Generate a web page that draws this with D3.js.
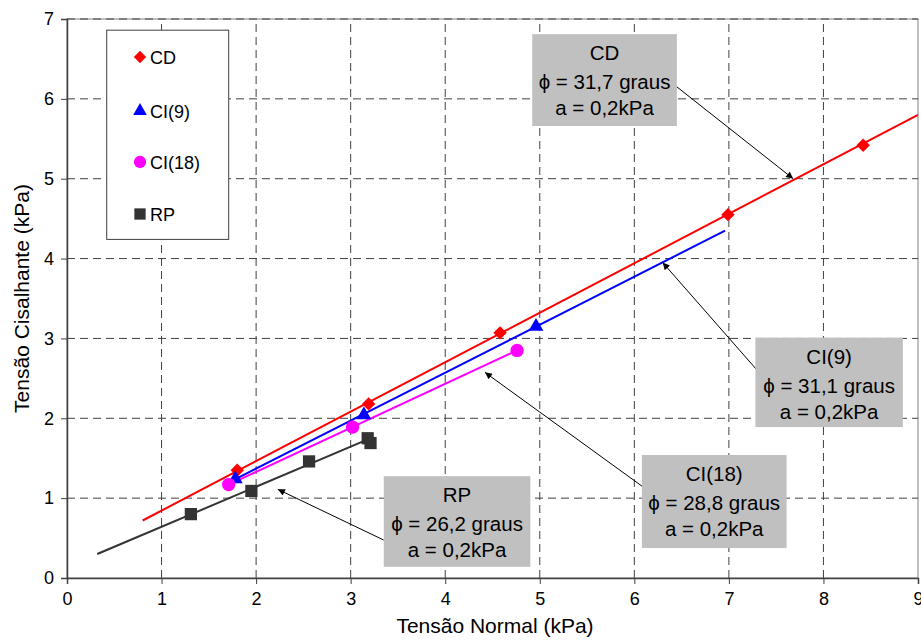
<!DOCTYPE html>
<html>
<head>
<meta charset="utf-8">
<script src="https://cdn.jsdelivr.net/npm/d3@7"></script>
<style>
  body { margin: 0; background: #fff; }
  text { font-family: "Liberation Sans", Arial, sans-serif; fill: #000; }
</style>
</head>
<body>
<div id="chart"></div>
<script>
// data
const cdX = [1.80, 3.19, 4.58, 6.99, 8.42];
const cdY = [1.35, 2.18, 3.07, 4.55, 5.42];
const ci9X = [1.78, 3.14, 4.96];
const ci9Y = [1.24, 2.04, 3.15];
const ci18X = [1.71, 3.02, 4.76];
const ci18Y = [1.17, 1.89, 2.85];
const rpX = [1.31, 1.95, 2.56, 3.18, 3.21];
const rpY = [0.80, 1.09, 1.46, 1.75, 1.69];

// fitted lines (end points)
const cdFitX = [0.8, 9.0], cdFitY = [0.72, 5.80];
const ci9FitX = [1.75, 6.96], ci9FitY = [1.22, 4.35];
const ci18FitX = [1.71, 4.76], ci18FitY = [1.17, 2.85];
const rpFitX = [0.32, 3.15], rpFitY = [0.30, 1.72];

const xTicks = [0, 1, 2, 3, 4, 5, 6, 7, 8, 9];
const yTicks = [0, 1, 2, 3, 4, 5, 6, 7];
const legendNames = ["CD", "CI(9)", "CI(18)", "RP"];

// annotation boxes: [x0, x1, yTop, yBottom] in data units, arrow from -> to
const noteNames = ["CD", "CI(9)", "CI(18)", "RP"];
const notePhi = ["31,7", "31,1", "28,8", "26,2"];
const noteBox = [[4.92, 6.45, 6.81, 5.66], [7.28, 8.84, 3.01, 1.89], [6.08, 7.61, 1.54, 0.375], [3.35, 4.90, 1.275, 0.14]];
const noteFrom = [[6.45, 6.15], [7.30, 2.60], [6.11, 1.125], [3.35, 0.475]];
const noteTo = [[7.68, 5.00], [6.30, 3.95], [4.42, 2.575], [2.23, 1.11]];

const width = 921, height = 641;
const margin = {left: 67, right: 3, top: 19, bottom: 63};

const svg = d3.select("#chart").append("svg")
  .attr("width", width).attr("height", height);

const xScale = d3.scaleLinear().domain([0, 9]).range([margin.left, width - margin.right]);
const yScale = d3.scaleLinear().domain([0, 7]).range([height - margin.bottom, margin.top]);

// plot frame
svg.append("rect")
  .attr("x", xScale(0)).attr("y", yScale(7))
  .attr("width", xScale(9) - xScale(0)).attr("height", yScale(0) - yScale(7))
  .attr("fill", "none").attr("stroke", "#808080");

// grid
svg.append("g").selectAll("line").data(xTicks.slice(1, -1)).join("line")
  .attr("x1", d => xScale(d)).attr("x2", d => xScale(d))
  .attr("y1", yScale(0)).attr("y2", yScale(7))
  .attr("stroke", "#404040").attr("stroke-dasharray", "8,5");
svg.append("g").selectAll("line").data(yTicks.slice(1)).join("line")
  .attr("x1", xScale(0)).attr("x2", xScale(9))
  .attr("y1", d => yScale(d)).attr("y2", d => yScale(d))
  .attr("stroke", "#404040").attr("stroke-dasharray", "8,5");

// axes
const xAxis = svg.append("g").attr("transform", `translate(0,${yScale(0)})`)
  .call(d3.axisBottom(xScale).tickValues(xTicks).tickSize(6).tickPadding(8).tickFormat(d3.format("d")));
const yAxis = svg.append("g").attr("transform", `translate(${xScale(0)},0)`)
  .call(d3.axisLeft(yScale).tickValues(yTicks).tickSize(6).tickPadding(7).tickFormat(d3.format("d")));
[xAxis, yAxis].forEach(a => {
  a.select(".domain").attr("stroke", "#404040").attr("stroke-width", 1.5);
  a.selectAll(".tick line").attr("stroke", "#404040");
  a.selectAll("text").attr("font-size", 18).attr("font-family", "Liberation Sans, Arial, sans-serif").attr("fill", "#000");
});

svg.append("text")
  .attr("x", 495).attr("y", 633)
  .attr("text-anchor", "middle").attr("font-size", 21)
  .text("Tensão Normal (kPa)");
svg.append("text")
  .attr("transform", `translate(29,${yScale(3.5)}) rotate(-90)`)
  .attr("text-anchor", "middle").attr("font-size", 21)
  .text("Tensão Cisalhante (kPa)");

// legend box
const legend = svg.append("g");
legend.append("rect")
  .attr("x", xScale(0.42)).attr("y", yScale(6.86))
  .attr("width", xScale(1.71) - xScale(0.42)).attr("height", yScale(4.24) - yScale(6.86))
  .attr("fill", "#fff").attr("stroke", "#404040");

// diamonds are squares turned by 45 degrees
const series = [
  {name: "CD", xs: cdX, ys: cdY, fx: cdFitX, fy: cdFitY, color: "#ff0000", sym: d3.symbolSquare, size: 90, rot: 45},
  {name: "CI(9)", xs: ci9X, ys: ci9Y, fx: ci9FitX, fy: ci9FitY, color: "#0000ff", sym: d3.symbolTriangle, size: 95, rot: 0},
  {name: "CI(18)", xs: ci18X, ys: ci18Y, fx: ci18FitX, fy: ci18FitY, color: "#ff00ff", sym: d3.symbolCircle, size: 140, rot: 0},
  {name: "RP", xs: rpX, ys: rpY, fx: rpFitX, fy: rpFitY, color: "#333333", sym: d3.symbolSquare, size: 150, rot: 0}
];

const legendY = [57, 111, 162, 214];
legendNames.forEach((n, i) => {
  const s = series[i];
  legend.append("path")
    .attr("d", d3.symbol().type(s.sym).size(s.size * 0.85)())
    .attr("transform", `translate(140,${legendY[i]}) rotate(${s.rot})`)
    .attr("fill", s.color);
  legend.append("text")
    .attr("x", 150).attr("y", legendY[i] + 6.5)
    .attr("font-size", 18)
    .text(n);
});

// lines and markers
const line = d3.line().x(d => xScale(d[0])).y(d => yScale(d[1]));
series.forEach(s => {
  svg.append("path")
    .attr("d", line(s.fx.map((x, i) => [x, s.fy[i]])))
    .attr("fill", "none").attr("stroke", s.color).attr("stroke-width", 2);
});
series.forEach(s => {
  svg.append("g").selectAll("path").data(s.xs.map((x, i) => [x, s.ys[i]])).join("path")
    .attr("d", d3.symbol().type(s.sym).size(s.size)())
    .attr("transform", d => `translate(${xScale(d[0])},${yScale(d[1])}) rotate(${s.rot})`)
    .attr("fill", s.color);
});

// annotations
svg.append("defs").append("marker")
  .attr("id", "arrow").attr("viewBox", "0 0 10 10")
  .attr("refX", 10).attr("refY", 5)
  .attr("markerWidth", 10).attr("markerHeight", 7)
  .attr("markerUnits", "userSpaceOnUse")
  .attr("orient", "auto")
  .append("path").attr("d", "M0,0L10,5L0,10Z").attr("fill", "#000");

noteNames.forEach((n, i) => {
  const b = noteBox[i];
  svg.append("line")
    .attr("x1", xScale(noteFrom[i][0])).attr("y1", yScale(noteFrom[i][1]))
    .attr("x2", xScale(noteTo[i][0])).attr("y2", yScale(noteTo[i][1]))
    .attr("stroke", "#000").attr("stroke-width", 1)
    .attr("marker-end", "url(#arrow)");
  const x0 = xScale(b[0]), x1 = xScale(b[1]), y0 = yScale(b[2]), y1 = yScale(b[3]);
  svg.append("rect")
    .attr("x", x0).attr("y", y0).attr("width", x1 - x0).attr("height", y1 - y0)
    .attr("fill", "#c0c0c0");
  const cx = (x0 + x1) / 2;
  const lines = [n, `ϕ = ${notePhi[i]} graus`, "a = 0,2kPa"];
  const offs = [26, 55, 81];
  lines.forEach((t, j) => {
    svg.append("text")
      .attr("x", cx).attr("y", y0 + offs[j])
      .attr("text-anchor", "middle").attr("font-size", 20.5)
      .text(t);
  });
});
</script>
</body>
</html>
